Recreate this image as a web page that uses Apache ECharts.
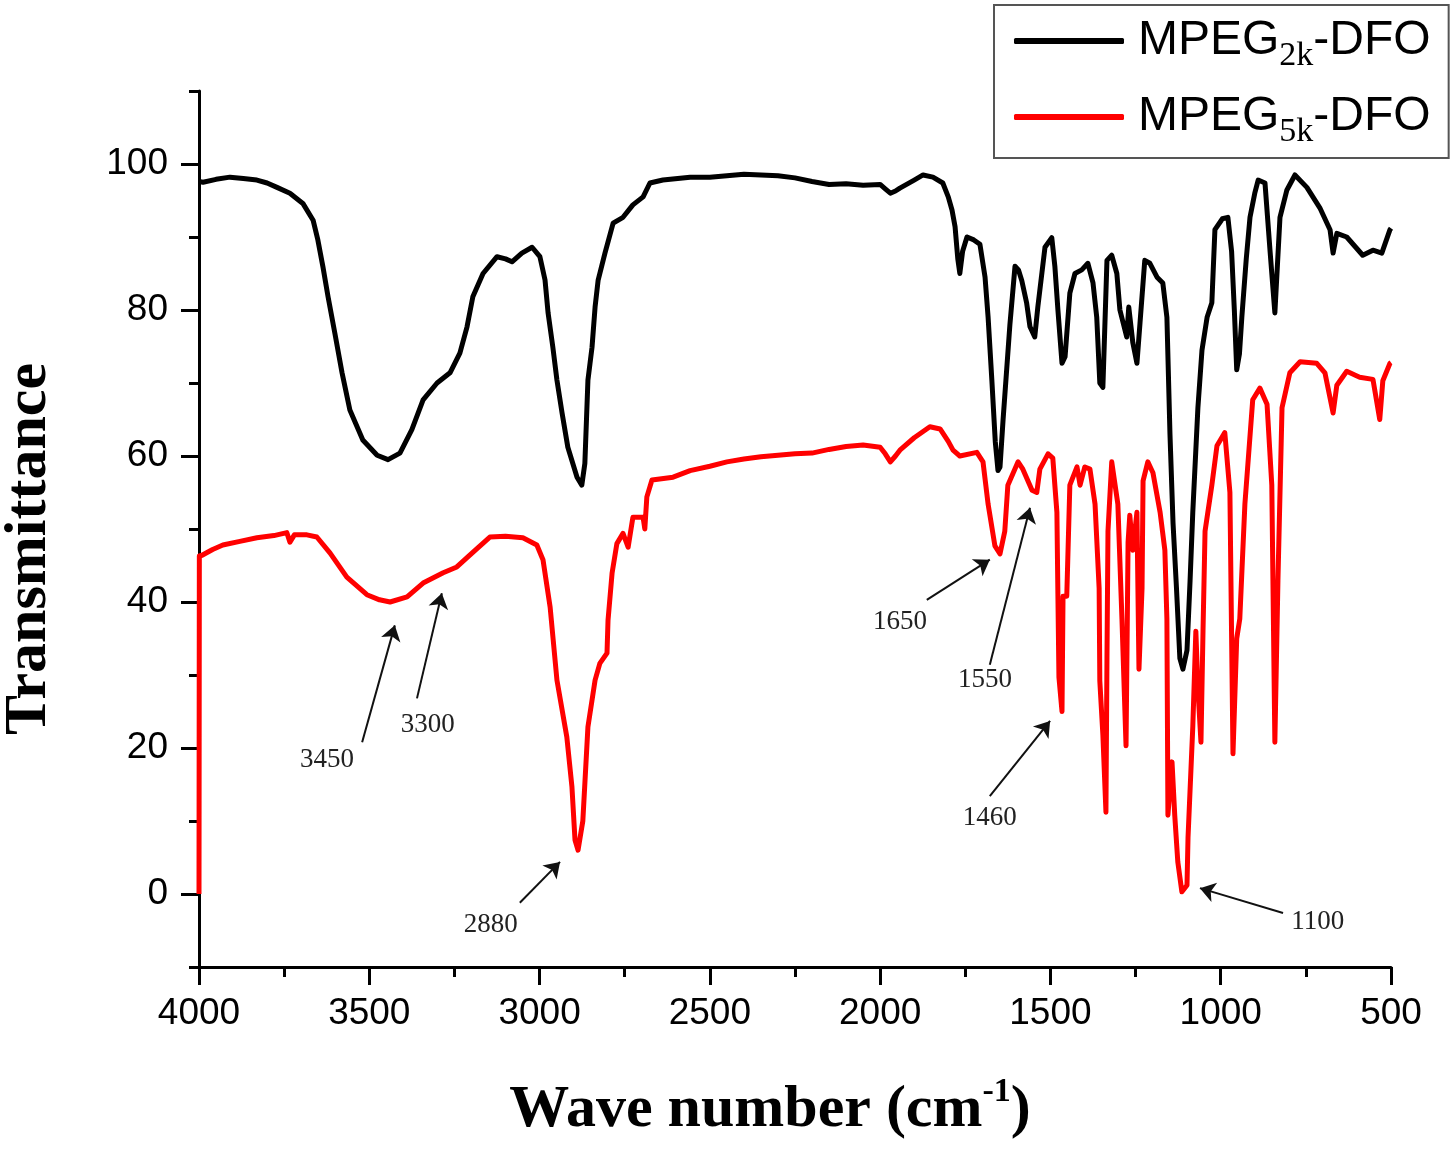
<!DOCTYPE html>
<html>
<head>
<meta charset="utf-8">
<script src="https://cdn.jsdelivr.net/npm/echarts@6/dist/echarts.min.js"></script>
<style>
html,body{margin:0;padding:0;background:#fff;}
#chart{width:1450px;height:1151px;}
</style>
</head>
<body>
<div id="chart"></div>
<script>
// ---- data ----
var seriesNames = ['MPEG2k-DFO', 'MPEG5k-DFO'];

var mpeg2k = [[4000,97.6],[3988,97.5],[3950,97.9],[3909,98.2],[3870,98.0],[3830,97.8],[3800,97.4],[3771,96.8],[3733,96.0],[3695,94.6],[3665,92.3],[3651,89.6],[3636,85.9],[3621,81.8],[3601,76.8],[3580,71.4],[3557,66.3],[3519,62.2],[3477,60.1],[3445,59.5],[3410,60.4],[3375,63.6],[3342,67.7],[3301,70.0],[3263,71.4],[3234,74.1],[3213,77.7],[3196,81.8],[3166,85.0],[3125,87.3],[3100,87.0],[3081,86.6],[3052,87.8],[3022,88.6],[2999,87.3],[2984,84.1],[2975,79.6],[2961,74.9],[2949,70.4],[2934,65.9],[2917,61.2],[2890,57.1],[2876,56.0],[2867,59.0],[2858,70.4],[2846,74.9],[2837,80.4],[2828,84.1],[2808,87.8],[2784,91.9],[2755,92.7],[2726,94.4],[2696,95.5],[2676,97.4],[2638,97.8],[2558,98.2],[2500,98.2],[2450,98.4],[2400,98.6],[2350,98.5],[2300,98.4],[2250,98.1],[2200,97.6],[2150,97.2],[2100,97.3],[2050,97.1],[2000,97.2],[1985,96.6],[1970,96.0],[1955,96.3],[1942,96.7],[1900,97.8],[1874,98.5],[1845,98.2],[1816,97.4],[1800,95.5],[1789,93.7],[1780,91.4],[1772,87.0],[1766,85.0],[1758,88.0],[1745,90.0],[1725,89.6],[1707,89.0],[1692,84.5],[1683,79.0],[1672,70.4],[1662,62.0],[1654,58.0],[1648,58.5],[1639,65.0],[1619,78.0],[1604,86.0],[1594,85.5],[1584,84.0],[1570,81.0],[1560,77.7],[1546,76.3],[1537,80.4],[1516,88.6],[1496,89.9],[1487,86.0],[1478,80.0],[1466,72.7],[1457,73.6],[1443,82.3],[1428,85.0],[1408,85.5],[1390,86.4],[1375,83.7],[1364,79.0],[1355,70.0],[1346,69.4],[1334,86.8],[1320,87.5],[1305,85.0],[1296,80.0],[1276,76.3],[1270,80.4],[1258,75.5],[1246,72.7],[1237,78.2],[1223,86.8],[1208,86.4],[1187,84.5],[1170,83.7],[1158,79.0],[1149,63.0],[1140,50.8],[1130,42.0],[1120,32.3],[1111,30.8],[1099,33.4],[1090,42.9],[1082,52.3],[1067,66.6],[1055,74.5],[1040,79.0],[1026,81.0],[1017,91.0],[995,92.5],[979,92.7],[968,88.0],[960,80.0],[953,71.8],[945,74.0],[938,79.0],[925,87.0],[914,92.7],[900,96.0],[890,97.8],[870,97.4],[855,88.0],[841,79.6],[826,92.7],[806,96.4],[782,98.5],[747,96.8],[709,94.0],[679,91.0],[670,87.8],[659,90.5],[630,90.0],[583,87.5],[553,88.2],[527,87.8],[503,91.0],[500,91.2]];

var mpeg5k = [[4000,0],[3999,46.3],[3991,46.4],[3960,47.2],[3930,47.8],[3880,48.3],[3830,48.8],[3780,49.1],[3742,49.5],[3733,48.2],[3720,49.2],[3683,49.2],[3654,48.9],[3615,46.7],[3566,43.4],[3507,41.0],[3470,40.3],[3439,40.0],[3389,40.7],[3342,42.6],[3283,44.0],[3243,44.8],[3196,46.8],[3146,48.9],[3100,49.0],[3049,48.8],[3008,47.8],[2990,45.8],[2969,39.3],[2949,29.3],[2920,21.5],[2905,14.7],[2896,7.4],[2887,6.0],[2873,10.0],[2858,22.9],[2837,29.3],[2823,31.6],[2802,33.0],[2799,37.5],[2787,44.0],[2773,48.0],[2755,49.4],[2740,47.5],[2726,51.6],[2696,51.6],[2691,50.0],[2685,54.4],[2670,56.7],[2608,57.1],[2558,58.0],[2500,58.6],[2450,59.2],[2400,59.6],[2350,59.9],[2300,60.1],[2250,60.3],[2200,60.4],[2150,60.9],[2100,61.3],[2050,61.5],[2000,61.2],[1985,60.3],[1970,59.2],[1955,60.0],[1942,60.8],[1900,62.5],[1854,64.0],[1824,63.7],[1800,62.0],[1786,60.8],[1766,60.0],[1716,60.5],[1698,59.2],[1683,53.4],[1663,47.7],[1648,46.6],[1634,49.7],[1625,56.0],[1595,59.2],[1581,58.2],[1554,55.3],[1540,55.0],[1531,58.2],[1507,60.3],[1493,59.7],[1481,52.3],[1478,40.8],[1475,29.7],[1466,25.0],[1463,40.8],[1452,40.8],[1443,56.0],[1422,58.5],[1413,56.0],[1399,58.5],[1384,58.2],[1369,53.4],[1357,41.9],[1355,29.2],[1346,21.8],[1337,11.2],[1334,32.3],[1331,49.7],[1320,59.2],[1302,53.4],[1290,37.7],[1278,20.3],[1272,48.2],[1267,51.9],[1258,47.1],[1246,52.3],[1240,30.8],[1231,41.9],[1228,56.6],[1214,59.2],[1199,57.7],[1178,52.3],[1164,47.1],[1158,37.7],[1155,10.8],[1143,18.1],[1135,10.8],[1126,4.4],[1114,0.3],[1099,1.2],[1096,7.7],[1082,22.9],[1073,36.0],[1067,28.2],[1058,20.8],[1052,36.0],[1046,49.7],[1026,56.0],[1011,61.4],[988,63.2],[973,55.0],[964,19.2],[953,35.0],[944,37.7],[929,53.4],[906,67.7],[885,69.3],[864,67.1],[850,56.0],[841,20.8],[832,42.9],[820,66.6],[797,71.4],[767,72.9],[718,72.7],[694,71.4],[670,65.9],[659,69.7],[630,71.6],[592,70.8],[553,70.5],[533,65.0],[524,70.3],[503,72.7],[500,72.8]];

var yTickValues = [0, 20, 40, 60, 80, 100];
var yMinorTickValues = [-10, 10, 30, 50, 70, 90, 110];

// peak annotations: label, text anchor, arrow tail, arrow tip (data coordinates)
var annLabels = ['3450', '3300', '2880', '1650', '1550', '1460', '1100'];
var annTextPos = [[3624,18.4],[3328,23.2],[3143,-4.2],[1942,37.3],[1692,29.3],[1678,10.4],[715,-3.8]];
var annTail = [[3521,20.8],[3360,26.8],[3058,-1.2],[1863,40.3],[1678,31.4],[1678,13.4],[817,-2.6]];
var annTip = [[3425,36.8],[3287,41.2],[2940,4.4],[1678,45.8],[1560,52.9],[1501,23.7],[1061,0.8]];

// ---- chart ----
var chart = echarts.init(document.getElementById('chart'), null, {renderer: 'canvas'});

var serif = '"Liberation Serif", "Times New Roman", serif';
var sans = '"Liberation Sans", Arial, sans-serif';

var arrowData = annLabels.map(function (t, i) {
  return [{coord: annTail[i]}, {coord: annTip[i]}];
});
var textData = annLabels.map(function (t, i) {
  return {name: t, coord: annTextPos[i]};
});

var option = {
  animation: false,
  backgroundColor: '#ffffff',
  grid: {left: 199, right: 59, top: 91, bottom: 184, containLabel: false, outerBoundsMode: 'none'},
  legend: {
    data: seriesNames,
    orient: 'vertical',
    left: 994,
    top: 5,
    padding: [4, 18, 9, 20],
    itemGap: 12,
    itemWidth: 110,
    itemHeight: 6,
    icon: 'roundRect',
    borderColor: '#555',
    borderWidth: 2,
    selectedMode: false,
    formatter: function (name) {
      var m = name.match(/^(MPEG)(\d+k)(-DFO)$/);
      return '{p|' + m[1] + '}{s|' + m[2] + '}{m|' + m[3] + '}';
    },
    textStyle: {
      color: '#000',
      rich: {
        p: {fontSize: 48, fontFamily: sans, color: '#000', lineHeight: 50, padding: [0, 0, 0, 9], verticalAlign: 'middle'},
        m: {fontSize: 48, fontFamily: sans, color: '#000', lineHeight: 50, verticalAlign: 'middle'},
        s: {fontSize: 34, fontFamily: serif, color: '#000', lineHeight: 50, padding: [30, 0, 0, 0], verticalAlign: 'middle'}
      }
    }
  },
  xAxis: {
    type: 'value',
    inverse: true,
    min: 500,
    max: 4000,
    interval: 500,
    name: '{t|Wave number (cm}{sup|-1}{t|)}',
    nameLocation: 'middle',
    nameGap: 110,
    nameTextStyle: {
      padding: [0, 50, 0, 0],
      rich: {
        t: {fontSize: 60, fontWeight: 'bold', fontFamily: serif, color: '#000', lineHeight: 66},
        sup: {fontSize: 34, fontWeight: 'bold', fontFamily: serif, color: '#000', lineHeight: 66, padding: [0, 0, 36, 0]}
      }
    },
    axisLine: {show: true, onZero: false, lineStyle: {color: '#000', width: 3}},
    axisTick: {show: true, inside: false, length: 18, lineStyle: {color: '#000', width: 3}},
    minorTick: {show: true, splitNumber: 2, length: 10, lineStyle: {color: '#000', width: 3}},
    axisLabel: {show: true, margin: 28, fontSize: 37, fontFamily: sans, color: '#000', formatter: function (v) { return String(v); }},
    splitLine: {show: false},
    minorSplitLine: {show: false}
  },
  yAxis: [{
    type: 'value',
    min: -10,
    max: 110,
    interval: 10,
    name: 'Transmittance',
    nameLocation: 'middle',
    nameRotate: 90,
    nameGap: 140,
    nameTextStyle: {fontSize: 60, fontWeight: 'bold', fontFamily: serif, color: '#000', padding: [0, 40, 0, 0]},
    axisLine: {show: true, onZero: false, lineStyle: {color: '#000', width: 3}},
    axisTick: {show: true, inside: false, length: 18, customValues: yTickValues, lineStyle: {color: '#000', width: 3}},
    axisLabel: {show: true, margin: 31, fontSize: 37, fontFamily: sans, color: '#000', customValues: yTickValues},
    splitLine: {show: false}
  }, {
    type: 'value',
    min: -10,
    max: 110,
    interval: 10,
    position: 'left',
    axisLine: {show: false},
    axisTick: {show: true, inside: false, length: 10, customValues: yMinorTickValues, lineStyle: {color: '#000', width: 3}},
    axisLabel: {show: false},
    splitLine: {show: false}
  }],
  series: [{
    name: seriesNames[0],
    type: 'line',
    data: mpeg2k,
    showSymbol: false,
    symbol: 'none',
    smooth: false,
    color: '#000000',
    lineStyle: {color: '#000000', width: 5, join: 'round'},
    z: 2
  }, {
    name: seriesNames[1],
    type: 'line',
    data: mpeg5k,
    showSymbol: false,
    symbol: 'none',
    smooth: false,
    color: '#ff0000',
    lineStyle: {color: '#ff0000', width: 5, join: 'round'},
    z: 3,
    markLine: {
      silent: true,
      symbol: ['none', 'arrow'],
      symbolSize: 15,
      precision: 2,
      lineStyle: {color: '#111', width: 2, type: 'solid'},
      label: {show: false},
      emphasis: {disabled: true},
      data: arrowData
    },
    markPoint: {
      silent: true,
      symbol: 'circle',
      symbolSize: 0,
      itemStyle: {color: 'rgba(0,0,0,0)'},
      label: {show: true, position: 'inside', formatter: '{b}', fontFamily: serif, fontSize: 27, color: '#222'},
      data: textData
    }
  }]
};

chart.setOption(option);
</script>
</body>
</html>
